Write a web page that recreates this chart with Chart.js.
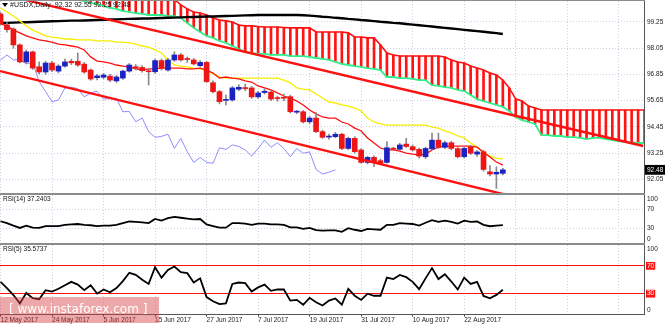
<!DOCTYPE html>
<html>
<head>
<meta charset="utf-8">
<title>#USDX,Daily</title>
<script src="https://cdn.jsdelivr.net/npm/chart.js@4.4.1/dist/chart.umd.min.js"></script>
<style>
  html, body { margin: 0; padding: 0; background: #fff; }
  #terminal { position: relative; width: 665px; height: 325px; overflow: hidden; background: #fff;
              font-family: "Liberation Sans", Arial, sans-serif; }
  #terminal canvas { position: absolute; left: 0; }
  #main { top: 1px; }
  #rsi14 { top: 195px; }
  #rsi5 { top: 245px; }
  .rule { position: absolute; left: 0; width: 645px; background: #8c8c8c; }
  .caption { position: absolute; left: 3px; font-size: 6.5px; line-height: 8px; color: #111; white-space: pre; }
  #symbol { left: 10px; top: 1px; font-size: 7px; }
  #menu { position: absolute; left: 2px; top: 3px; width: 0; height: 0;
          border-left: 3px solid transparent; border-right: 3px solid transparent; border-top: 4px solid #000; }
  #brand { position: absolute; left: 0; top: 297px; width: 159px; height: 26px; background: rgba(214, 64, 64, 0.45); }
  #brand span { position: absolute; left: 9px; top: 5px; font: 12px "DejaVu Sans", sans-serif; color: #fff; white-space: pre; }
</style>
</head>
<body>
<div id="terminal">
  <canvas id="main" width="665" height="192"></canvas>
  <canvas id="rsi14" width="665" height="48"></canvas>
  <canvas id="rsi5" width="665" height="80"></canvas>
  <div class="rule" style="top:0;height:1px"></div>
  <div class="rule" style="top:193px;height:2px"></div>
  <div class="rule" style="top:243px;height:2px"></div>
  <div id="menu"></div>
  <div class="caption" id="symbol"></div>
  <div class="caption" id="rsi14-cap" style="top:195px"></div>
  <div class="caption" id="rsi5-cap" style="top:245px"></div>
  <div id="brand"><span>[ www.instaforex.com ]</span></div>
</div>
<script>
// USDX daily, 12 May - 30 Aug 2017: candles + Ichimoku + SMA, RSI(14) and RSI(5) below.
// x is the bar number; the Kumo is projected 22 bars past the last candle.

const dateLabels = ['12 May 2017', '24 May 2017', '5 Jun 2017', '15 Jun 2017', '27 Jun 2017',
                    '7 Jul 2017', '19 Jul 2017', '31 Jul 2017', '10 Aug 2017', '22 Aug 2017'];
const gridBars = [0, 8, 16, 24, 32, 40, 48, 56, 64, 72, 80, 88, 96];
const priceTicks = [92.05, 93.25, 94.45, 95.65, 96.85, 98.05, 99.25];
const rsiTicks = [0, 30, 70, 100];
const rsiLevels = [30, 70];

const opens = [
  99.62, 99.12, 98.93, 98.20, 97.42, 97.88, 97.20, 96.96, 97.37, 97.00,
  97.23, 97.45, 97.45, 97.32, 97.05, 96.70, 96.72, 96.77, 96.55, 96.68,
  97.00, 97.20, 97.17, 96.99, 96.97, 97.48, 97.05, 97.51, 97.74, 97.55,
  97.51, 97.25, 97.40, 96.47, 96.06, 95.66, 95.68, 96.17, 96.22, 96.23,
  95.82, 96.02, 96.04, 95.76, 95.78, 95.83, 95.12, 95.14, 94.68, 94.85,
  94.23, 93.98, 94.00, 94.11, 93.46, 93.92, 93.39, 92.82, 93.05, 92.90,
  92.82, 93.47, 93.42, 93.66, 93.54, 93.42, 93.08, 93.44, 93.84, 93.51,
  93.72, 93.45, 93.08, 93.54, 93.20, 93.31, 92.39, 92.29, 92.32];
const highs = [
  99.70, 99.22, 98.98, 98.25, 97.97, 97.92, 97.42, 97.45, 97.45, 97.30,
  97.55, 97.55, 97.83, 97.40, 97.10, 96.85, 96.90, 96.85, 96.80, 97.05,
  97.35, 97.30, 97.25, 97.10, 97.55, 97.55, 97.58, 97.89, 97.80, 97.65,
  97.58, 97.48, 97.45, 96.55, 96.12, 95.90, 96.30, 96.38, 96.40, 96.30,
  96.08, 96.20, 96.10, 95.85, 95.95, 95.90, 95.20, 95.20, 94.92, 95.10,
  94.30, 94.12, 94.20, 94.15, 93.98, 94.00, 93.45, 93.10, 93.12, 92.98,
  93.77, 93.52, 93.70, 93.92, 93.62, 93.48, 93.52, 94.16, 94.16, 93.80,
  93.78, 93.50, 93.52, 93.60, 93.36, 93.38, 92.68, 92.62, 92.55];
const lows = [
  99.10, 98.78, 98.05, 97.38, 97.35, 97.08, 96.87, 96.85, 96.98, 96.92,
  97.18, 97.30, 97.22, 96.90, 96.58, 96.60, 96.65, 96.52, 96.48, 96.62,
  96.95, 97.05, 96.95, 96.36, 96.90, 97.05, 97.00, 97.45, 97.45, 97.40,
  97.28, 97.20, 96.48, 96.00, 95.50, 95.45, 95.62, 96.10, 96.10, 95.75,
  95.75, 95.95, 95.65, 95.62, 95.65, 95.08, 95.05, 94.62, 94.60, 94.18,
  93.92, 93.88, 93.95, 93.40, 93.40, 93.25, 92.78, 92.75, 92.62, 92.72,
  92.78, 93.38, 93.38, 93.50, 93.35, 93.02, 93.00, 93.40, 93.46, 93.45,
  93.40, 93.02, 93.02, 93.18, 93.10, 92.42, 92.20, 91.63, 92.25];
const closes = [
  99.16, 98.90, 98.20, 97.42, 97.88, 97.14, 96.96, 97.37, 97.05, 97.23,
  97.42, 97.38, 97.28, 96.96, 96.64, 96.78, 96.82, 96.59, 96.73, 97.00,
  97.28, 97.13, 97.02, 96.97, 97.48, 97.13, 97.51, 97.74, 97.51, 97.53,
  97.33, 97.40, 96.52, 96.06, 95.60, 95.68, 96.23, 96.26, 96.20, 95.82,
  96.00, 96.08, 95.72, 95.74, 95.76, 95.14, 95.15, 94.68, 94.85, 94.23,
  93.97, 94.01, 94.11, 93.46, 93.92, 93.31, 92.82, 93.05, 92.82, 92.78,
  93.49, 93.42, 93.62, 93.55, 93.39, 93.11, 93.46, 93.84, 93.51, 93.72,
  93.46, 93.08, 93.46, 93.24, 93.30, 92.50, 92.29, 92.37, 92.48];

// Tenkan-sen (red) and Kijun-sen (yellow)
const tenkan = [
  99.16, 99.07, 98.88, 98.75, 98.61, 98.52, 98.43, 98.38, 98.33, 98.24,
  98.20, 98.15, 98.10, 97.97, 97.65, 97.46, 97.42, 97.37, 97.28, 97.23,
  97.19, 97.10, 97.05, 97.10, 97.10, 97.14, 97.14, 97.14, 97.14, 97.10,
  97.10, 97.14, 97.05, 96.91, 96.68, 96.73, 96.68, 96.64, 96.55, 96.50,
  96.32, 96.23, 96.14, 96.00, 95.86, 95.77, 95.63, 95.45, 95.22, 95.04,
  94.90, 94.85, 94.85, 94.67, 94.58, 94.39, 94.26, 93.94, 93.71, 93.48,
  93.39, 93.39, 93.34, 93.25, 93.20, 93.16, 93.20, 93.39, 93.52, 93.57,
  93.57, 93.57, 93.57, 93.57, 93.52, 93.29, 93.07, 92.84, 92.70];
const kijun = [
  99.89, 99.71, 99.52, 99.30, 99.07, 98.88, 98.75, 98.61, 98.56, 98.52,
  98.47, 98.47, 98.43, 98.43, 98.43, 98.38, 98.38, 98.38, 98.33, 98.33,
  98.29, 98.24, 98.15, 98.10, 97.97, 97.83, 97.51, 97.28, 97.23, 97.19,
  97.14, 97.10, 97.01, 96.87, 96.73, 96.68, 96.68, 96.68, 96.68, 96.68,
  96.68, 96.68, 96.68, 96.68, 96.59, 96.46, 96.23, 96.18, 96.14, 95.95,
  95.77, 95.59, 95.54, 95.45, 95.40, 95.31, 95.17, 94.85, 94.67, 94.58,
  94.53, 94.53, 94.53, 94.53, 94.53, 94.53, 94.53, 94.44, 94.39, 94.26,
  94.17, 94.03, 93.94, 93.71, 93.52, 93.29, 93.11, 93.02, 92.97];
// long simple moving average (black)
const sma = [
  99.20, 99.21, 99.22, 99.23, 99.24, 99.25, 99.26, 99.27, 99.28, 99.29,
  99.30, 99.31, 99.31, 99.32, 99.33, 99.34, 99.35, 99.36, 99.37, 99.38,
  99.39, 99.40, 99.41, 99.41, 99.42, 99.43, 99.44, 99.45, 99.46, 99.47,
  99.48, 99.49, 99.50, 99.50, 99.51, 99.52, 99.53, 99.54, 99.55, 99.56,
  99.57, 99.57, 99.57, 99.57, 99.57, 99.57, 99.57, 99.56, 99.54, 99.52,
  99.49, 99.47, 99.44, 99.42, 99.39, 99.37, 99.34, 99.32, 99.29, 99.26,
  99.24, 99.21, 99.19, 99.16, 99.13, 99.10, 99.07, 99.04, 99.01, 98.98,
  98.95, 98.92, 98.89, 98.86, 98.83, 98.80, 98.77, 98.74, 98.70];
// Senkou span A (green edge) and span B (red edge), bars 0..100
const spanA = [
  101.90, 101.85, 101.80, 101.70, 101.60, 101.45, 101.30, 101.10, 100.90, 100.70,
  100.50, 100.30, 100.26, 100.21, 100.12, 100.07, 99.98, 99.89, 99.85, 99.75,
  99.71, 99.66, 99.62, 99.57, 99.57, 99.57, 99.52, 99.52, 99.43, 99.20,
  98.98, 98.79, 98.61, 98.52, 98.38, 98.29, 98.15, 98.01, 97.88, 97.83,
  97.79, 97.79, 97.74, 97.74, 97.74, 97.69, 97.69, 97.69, 97.65, 97.60,
  97.56, 97.51, 97.42, 97.33, 97.28, 97.23, 97.19, 97.14, 97.10, 97.05,
  96.73, 96.73, 96.68, 96.68, 96.64, 96.59, 96.59, 96.36, 96.32, 96.27,
  96.23, 96.14, 96.09, 95.91, 95.72, 95.63, 95.54, 95.45, 95.36, 95.17,
  94.90, 94.76, 94.67, 94.58, 94.07, 94.07, 94.03, 94.03, 93.98, 93.98,
  93.94, 93.89, 93.94, 93.94, 93.89, 93.84, 93.80, 93.75, 93.71, 93.71,
  93.71];
const spanB = [
  101.20, 101.20, 101.20, 101.20, 101.20, 101.20, 101.20, 101.20, 101.20, 101.00,
  101.00, 101.00, 101.00, 101.00, 101.00, 101.00, 101.00, 100.75, 100.75, 100.75,
  100.75, 100.75, 100.75, 100.50, 100.50, 100.50, 100.30, 100.29, 100.03, 99.85,
  99.71, 99.66, 99.57, 99.43, 99.34, 99.30, 99.25, 99.11, 99.07, 99.07,
  99.04, 99.02, 99.02, 99.02, 99.00, 98.98, 98.98, 98.98, 98.98, 98.79,
  98.79, 98.79, 98.79, 98.79, 98.75, 98.56, 98.56, 98.52, 98.52, 98.20,
  97.83, 97.74, 97.69, 97.69, 97.69, 97.69, 97.69, 97.69, 97.69, 97.65,
  97.51, 97.42, 97.37, 97.23, 97.14, 97.05, 96.91, 96.82, 96.59, 96.23,
  95.72, 95.63, 95.40, 95.31, 95.22, 95.22, 95.22, 95.22, 95.22, 95.22,
  95.22, 95.22, 95.22, 95.22, 95.22, 95.22, 95.22, 95.22, 95.22, 95.22,
  95.22];
// hand-drawn channel, [bar, price] end points
const channelUpper = [[3.8, 100.26], [99.8, 93.57]];
const channelLower = [[-0.08, 97.00], [80, 91.23]];

const rsi14 = [
  45.3, 41.4, 36.2, 31.4, 36.2, 31.9, 31.4, 35.3, 35.3, 35.3,
  37.9, 38.8, 39.6, 37.9, 37.0, 35.3, 36.2, 36.2, 37.9, 41.4,
  44.8, 44.0, 43.1, 41.4, 50.0, 46.5, 51.7, 54.3, 52.6, 50.9,
  49.1, 50.0, 38.8, 35.3, 31.9, 31.9, 41.4, 41.4, 40.5, 37.9,
  40.5, 40.5, 38.8, 38.8, 37.9, 32.7, 32.7, 29.3, 31.4, 26.7,
  25.8, 26.3, 26.3, 23.2, 31.0, 27.6, 25.0, 29.3, 28.4, 27.6,
  37.9, 37.9, 41.4, 40.5, 39.6, 36.2, 42.2, 47.4, 44.0, 46.5,
  44.0, 40.5, 46.5, 44.0, 44.8, 37.9, 34.9, 36.2, 37.2403];
const rsi5 = [
  47, 38, 28, 16, 31, 23.5, 22, 35, 33, 37,
  42, 47, 43, 35, 42, 30, 36, 32, 38, 48,
  60, 57, 50, 44, 68, 53, 64, 69, 61, 59.5,
  46, 52, 25, 19, 15, 16, 44, 46, 45, 33,
  39, 43, 34, 36, 36, 20, 21, 14, 24, 17.5,
  13, 20, 23, 14, 36.8, 27, 21, 30, 27, 27,
  53, 51, 57, 53.7, 47, 36.4, 52, 66.7, 51, 58,
  47.4, 36, 53, 44, 47, 26.7, 23.4, 28.2, 35.5737];

const last = closes.length - 1;
const lastClose = closes[last];

const FONT = { family: '"Liberation Sans", Arial, sans-serif', size: 6.5 };
const INK = '#1a1a1a';
const GRID = '#cfcfe3';
const NONE = 'rgba(0,0,0,0)';
const BULL = '#1b22c4';
const BEAR = '#ee1515';
const WICK = '#8a8a8a';

const fitRight = (s) => { s.width = 21; s.paddingTop = 0; s.paddingBottom = 0; };

function timeAxis(withLabels) {
  return {
    type: 'linear', min: -0.08, max: 99.92, offset: false,
    afterBuildTicks: (s) => { s.ticks = gridBars.map((v) => ({ value: v })); },
    afterFit: (s) => { s.height = withLabels ? 10.5 : 0; s.paddingLeft = 0; s.paddingRight = 0; },
    ticks: {
      display: withLabels, autoSkip: false, maxRotation: 0, minRotation: 0,
      align: 'start', padding: 0, color: INK, font: FONT,
      callback: (v, i) => dateLabels[i] || '',
    },
    grid: {
      offset: false, color: GRID, drawTicks: withLabels, tickLength: 2,
      tickColor: (c) => (c.index < dateLabels.length ? '#333' : NONE),
    },
    border: { display: withLabels, color: '#555', dash: [1, 2] },
  };
}

// RSI panels print 100 and 0 inside the frame, like the terminal does
const insetEdgeLabels = {
  id: 'insetEdgeLabels',
  beforeDraw(chart) {
    const s = chart.scales.y;
    for (const item of s.getLabelItems()) {
      const t = item.options.translation;
      t[1] = Math.min(Math.max(t[1], s.top + 4), s.bottom - 4);
    }
  },
};

const base = {
  animation: false, responsive: false, events: [],
  layout: { padding: 0 },
  plugins: { legend: { display: false }, tooltip: { enabled: false } },
};

const pts = (arr, from = 0) => arr.map((v, i) => ({ x: i + from, y: v }));
const seg = (pairs) => pairs.map(([x, y]) => ({ x, y }));
const line = (data, color, width, order) => ({
  type: 'line', data, borderColor: color, borderWidth: width,
  pointRadius: 0, tension: 0, fill: false, order,
});
const idx = opens.map((_, i) => i);

new Chart(document.getElementById('main'), {
  type: 'bar',
  data: {
    datasets: [
      { // Kumo hatching
        data: spanA.map((a, i) => ({ x: i, y: [a, spanB[i]] })),
        backgroundColor: '#ff1414', barThickness: 2, grouped: false, order: 20,
      },
      line(pts(spanB), '#ff1010', 1.6, 15),
      line(pts(spanA), '#2ef08a', 1.8, 14),
      line(pts(sma), '#000000', 2.4, 13),
      line(pts(kijun), '#f4ee00', 1.3, 12),
      line(pts(tenkan), '#ff1010', 1.3, 11),
      line(pts(closes.slice(26)), '#8c8cff', 1, 10), // Chikou span
      { // wicks
        data: idx.map((i) => ({ x: i, y: [lows[i], highs[i]] })),
        backgroundColor: WICK, barThickness: 1, grouped: false, order: 6,
      },
      { // bodies
        data: idx.map((i) => ({ x: i, y: [opens[i], closes[i]] })),
        backgroundColor: idx.map((i) => (closes[i] > opens[i] ? BULL : closes[i] < opens[i] ? BEAR : WICK)),
        barThickness: 5, minBarLength: 1, grouped: false, order: 5,
      },
      line(seg(channelUpper), '#ff1010', 2.4, 1),
      line(seg(channelLower), '#ff1010', 2.4, 1),
    ],
  },
  options: {
    ...base,
    scales: {
      x: timeAxis(false),
      y: {
        position: 'right', min: 91.42, max: 100.21,
        afterBuildTicks: (s) => {
          s.ticks = [...priceTicks, lastClose].sort((a, b) => a - b).map((v) => ({ value: v }));
        },
        afterFit: fitRight,
        ticks: {
          padding: 3, font: FONT,
          color: (c) => (c.tick.value === lastClose ? '#fff' : INK),
          showLabelBackdrop: (c) => c.tick.value === lastClose,
          backdropColor: '#000', backdropPadding: { x: 2, y: 1 },
          callback: (v) => v.toFixed(2),
        },
        grid: { drawTicks: false, color: (c) => (c.tick && c.tick.value === lastClose ? NONE : GRID) },
        border: { color: '#555', dash: [1, 2] },
      },
    },
  },
});

function rsiChart(id, values, levelColor, tagged) {
  return new Chart(document.getElementById(id), {
    type: 'line',
    data: { datasets: [line(pts(values), '#000000', 1.8, 1)] },
    options: {
      ...base,
      scales: {
        x: timeAxis(id === 'rsi5'),
        y: {
          position: 'right', min: 0, max: 100,
          afterBuildTicks: (s) => { s.ticks = rsiTicks.map((v) => ({ value: v })); },
          afterFit: fitRight,
          ticks: {
            padding: 3, font: FONT,
            color: (c) => (tagged && rsiLevels.includes(c.tick.value) ? '#fff' : INK),
            showLabelBackdrop: (c) => tagged && rsiLevels.includes(c.tick.value),
            backdropColor: '#ff1010', backdropPadding: { x: 1, y: 0 },
          },
          grid: {
            drawTicks: false,
            color: (c) => (c.tick && rsiLevels.includes(c.tick.value) ? levelColor : NONE),
          },
          border: { color: '#555', dash: tagged ? [] : [1, 2] },
        },
      },
    },
    plugins: [insetEdgeLabels],
  });
}

rsiChart('rsi14', rsi14, GRID, false);
rsiChart('rsi5', rsi5, '#ff1010', true);

document.getElementById('symbol').textContent =
  '#USDX,Daily  ' + [opens[last], highs[last], lows[last], closes[last]].map((v) => v.toFixed(2)).join(' ');
document.getElementById('rsi14-cap').textContent = 'RSI(14) ' + rsi14[last].toFixed(4);
document.getElementById('rsi5-cap').textContent = 'RSI(5) ' + rsi5[last].toFixed(4);
</script>
</body>
</html>
